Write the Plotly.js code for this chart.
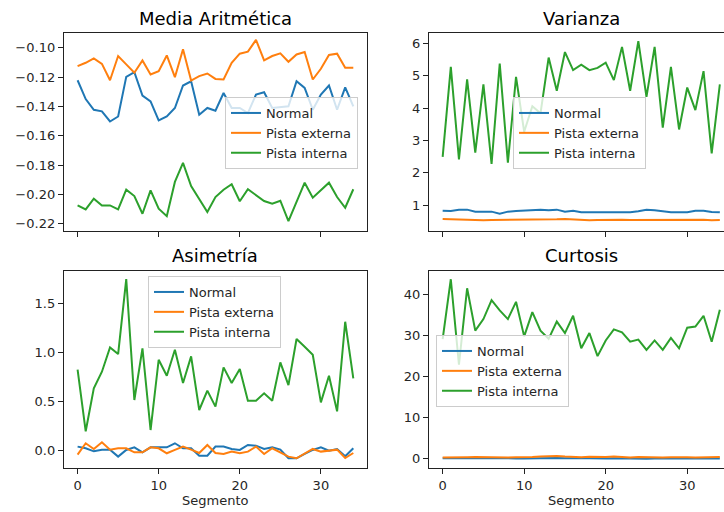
<!DOCTYPE html>
<html>
<head>
<meta charset="utf-8">
<script src="https://cdn.plot.ly/plotly-3.0.1.min.js"></script>
<style>
html,body{margin:0;padding:0;overflow:hidden;background:#fff;}
#chart{width:736px;height:512px;}
</style>
</head>
<body>
<div id="chart"></div>
<script>
const segmento = [0,1,2,3,4,5,6,7,8,9,10,11,12,13,14,15,16,17,18,19,20,21,22,23,24,25,26,27,28,29,30,31,32,33,34];
const seriesNames = ["Normal", "Pista externa", "Pista interna"];
const panelTitles = ["Media Aritmética", "Varianza", "Asimetría", "Curtosis"];
const xLabel = "Segmento";

const mediaNormal = [-0.1222,-0.1350,-0.1423,-0.1434,-0.1503,-0.1469,-0.1199,-0.1167,-0.1327,-0.1366,-0.1496,-0.1469,-0.1411,-0.1258,-0.1229,-0.1457,-0.1411,-0.1430,-0.1309,-0.1411,-0.1411,-0.1446,-0.1320,-0.1304,-0.1411,-0.1405,-0.1400,-0.1229,-0.1274,-0.1423,-0.1320,-0.1258,-0.1423,-0.1270,-0.1400];
const mediaExterna = [-0.1126,-0.1103,-0.1073,-0.1110,-0.1222,-0.1057,-0.1114,-0.1171,-0.1087,-0.1183,-0.1160,-0.1053,-0.1201,-0.1011,-0.1224,-0.1194,-0.1176,-0.1213,-0.1217,-0.1103,-0.1041,-0.1027,-0.0947,-0.1087,-0.1057,-0.1039,-0.1096,-0.1046,-0.1030,-0.1217,-0.1144,-0.1050,-0.1041,-0.1137,-0.1137];
const mediaInterna = [-0.2075,-0.2102,-0.2029,-0.2075,-0.2075,-0.2102,-0.1968,-0.2011,-0.2132,-0.1972,-0.2097,-0.2148,-0.1915,-0.1785,-0.1943,-0.2029,-0.2120,-0.2018,-0.1968,-0.1931,-0.2047,-0.1965,-0.2006,-0.2045,-0.2063,-0.2043,-0.2182,-0.2056,-0.1920,-0.2022,-0.1972,-0.1920,-0.2018,-0.2091,-0.1965];

const varNormal = [0.825,0.815,0.856,0.856,0.794,0.784,0.794,0.732,0.794,0.815,0.825,0.835,0.856,0.835,0.856,0.794,0.825,0.773,0.773,0.773,0.784,0.794,0.773,0.773,0.804,0.856,0.835,0.794,0.773,0.773,0.773,0.825,0.825,0.784,0.773];
const varExterna = [0.567,0.557,0.546,0.546,0.526,0.526,0.536,0.536,0.536,0.536,0.536,0.536,0.536,0.546,0.557,0.567,0.557,0.526,0.526,0.536,0.546,0.546,0.546,0.536,0.536,0.546,0.546,0.536,0.536,0.546,0.546,0.557,0.546,0.526,0.536];
const varInterna = [2.49,5.28,2.41,4.89,2.62,4.74,2.27,5.38,2.31,4.97,3.27,4.06,3.84,5.57,4.54,5.74,5.18,5.35,5.18,5.25,5.41,4.87,5.90,4.54,6.08,4.35,5.90,3.40,5.28,3.34,4.64,3.94,5.15,2.60,4.74];

const asimNormal = [0.041,0.024,-0.007,0.010,0.010,-0.061,0.007,0.034,-0.017,0.034,0.034,0.034,0.075,0.024,0.024,-0.051,-0.051,0.041,0.041,0.017,0.007,0.058,0.051,0.017,0.034,0.010,-0.078,-0.078,-0.034,0.007,0.034,0.000,0.017,-0.058,0.024];
const asimExterna = [-0.041,0.075,0.017,0.085,0.010,0.024,0.024,-0.017,-0.017,0.034,0.024,-0.027,0.007,0.041,0.010,-0.024,0.058,-0.024,-0.034,-0.010,-0.027,-0.010,0.041,-0.034,0.024,-0.017,-0.061,-0.078,-0.027,0.017,-0.010,0.000,0.010,-0.075,-0.024];
const asimInterna = [0.825,0.197,0.635,0.804,1.052,0.984,1.748,0.516,1.042,0.210,0.926,0.763,1.028,0.689,0.960,0.414,0.611,0.448,0.848,0.689,0.831,0.509,0.509,0.584,0.509,0.899,0.668,1.137,1.059,0.977,0.492,0.763,0.400,1.313,0.736];

const curtNormal = [0.05,0.02,-0.02,0.00,0.03,-0.05,0.02,0.06,-0.03,0.01,-0.02,0.04,-0.06,0.00,0.08,0.03,-0.04,0.02,0.05,-0.01,-0.03,0.07,0.00,-0.02,0.04,-0.05,0.01,0.03,-0.02,0.06,0.00,-0.03,0.02,0.05,-0.01];
const curtExterna = [0.25,0.22,0.28,0.30,0.35,0.30,0.40,0.25,0.20,0.30,0.28,0.35,0.45,0.50,0.60,0.45,0.35,0.30,0.40,0.30,0.35,0.50,0.30,0.25,0.35,0.30,0.20,0.25,0.30,0.35,0.30,0.25,0.28,0.30,0.35];
const curtInterna = [29.0,43.6,22.8,41.4,31.1,33.9,38.5,36.0,33.9,38.1,29.7,35.6,31.1,29.1,33.3,30.5,34.7,26.8,30.5,24.9,28.7,31.4,30.7,28.4,28.9,26.4,28.7,26.4,29.3,26.8,31.8,32.1,34.7,28.4,36.2];

const colors = ["#1f77b4", "#ff7f0e", "#2ca02c"];

const panels = [
  {series:[mediaNormal, mediaExterna, mediaInterna], xa:"x", ya:"y", legend:"legend"},
  {series:[varNormal, varExterna, varInterna], xa:"x2", ya:"y2", legend:"legend2"},
  {series:[asimNormal, asimExterna, asimInterna], xa:"x3", ya:"y3", legend:"legend3"},
  {series:[curtNormal, curtExterna, curtInterna], xa:"x4", ya:"y4", legend:"legend4"}
];

const traces = [];
panels.forEach(p => {
  p.series.forEach((ys, k) => {
    traces.push({
      type: "scatter", mode: "lines",
      x: segmento, y: ys,
      name: seriesNames[k],
      xaxis: p.xa, yaxis: p.ya,
      legend: p.legend,
      line: {color: colors[k], width: 2},
      hoverinfo: "skip"
    });
  });
});

const W = 736, H = 512;
const font = "DejaVu Sans, Arial, sans-serif";
const tickFont = {family: font, size: 13, color: "#262626"};

function axisBase(extra) {
  return Object.assign({
    showline: true, mirror: true, linecolor: "#222", linewidth: 1,
    ticks: "outside", ticklen: 5, tickwidth: 1, tickcolor: "#222",
    showgrid: false, zeroline: false, tickfont: tickFont, fixedrange: true
  }, extra);
}

const xL = [63.8/W, 367.1/W];
const xR = [428.8/W, 733.7/W];
const yT = [(H-230.5)/H, (H-33)/H];
const yB = [(H-468.3)/H, (H-271)/H];
const xRange = [-1.7, 35.7];
const xTicks = [0,10,20,30];

function legendAt(px, py) {
  return {
    x: px/W, y: (H-py)/H, xanchor: "left", yanchor: "top",
    xref: "paper", yref: "paper",
    bgcolor: "rgba(255,255,255,0.8)", bordercolor: "#cccccc", borderwidth: 1,
    font: {family: font, size: 13, color: "#262626"},
    itemwidth: 30, tracegroupgap: 0
  };
}

const xLeft0 = 77.6, xRight0 = 442.7;

const annotations = [
  {text: panelTitles[0], x: (xL[0]+xL[1])/2, y: (H-18)/H, size: 18},
  {text: panelTitles[1], x: (xR[0]+xR[1])/2, y: (H-18)/H, size: 18},
  {text: panelTitles[2], x: (xL[0]+xL[1])/2, y: (H-255)/H, size: 18},
  {text: panelTitles[3], x: (xR[0]+xR[1])/2, y: (H-255)/H, size: 18},
  {text: xLabel, x: (xL[0]+xL[1])/2, y: (H-500)/H, size: 13},
  {text: xLabel, x: (xR[0]+xR[1])/2, y: (H-500)/H, size: 13}
].map(a => ({text: a.text, x: a.x, y: a.y, xref: "paper", yref: "paper",
  xanchor: "center", yanchor: "middle", showarrow: false,
  font: {family: font, size: a.size, color: a.size > 14 ? "#000" : "#262626"}}));

const layout = {
  width: W, height: H,
  margin: {l: 0, r: 0, t: 0, b: 0},
  paper_bgcolor: "#fff", plot_bgcolor: "#fff",
  font: {family: font, color: "#262626"},
  showlegend: true,
  xaxis: axisBase({domain: xL, range: xRange, tickvals: xTicks, showticklabels: false, anchor: "y"}),
  yaxis: axisBase({domain: yT, range: [-0.2246, -0.0900], tickvals: [-0.22,-0.20,-0.18,-0.16,-0.14,-0.12,-0.10], tickformat: ".2f", anchor: "x"}),
  xaxis2: axisBase({domain: xR, range: xRange, tickvals: xTicks, showticklabels: false, anchor: "y2"}),
  yaxis2: axisBase({domain: yT, range: [0.21, 6.33], tickvals: [1,2,3,4,5,6], anchor: "x2"}),
  xaxis3: axisBase({domain: xL, range: xRange, tickvals: xTicks, anchor: "y3"}),
  yaxis3: axisBase({domain: yB, range: [-0.18, 1.83], tickvals: [0,0.5,1.0,1.5], tickformat: ".1f", anchor: "x3"}),
  xaxis4: axisBase({domain: xR, range: xRange, tickvals: xTicks, anchor: "y4"}),
  yaxis4: axisBase({domain: yB, range: [-2.4, 45.6], tickvals: [0,10,20,30,40], anchor: "x4"}),
  legend: legendAt(225, 97),
  legend2: legendAt(513, 97),
  legend3: legendAt(148, 276),
  legend4: legendAt(436, 335),
  annotations: annotations
};

Plotly.newPlot("chart", traces, layout, {displayModeBar: false, staticPlot: true});
</script>
</body>
</html>
